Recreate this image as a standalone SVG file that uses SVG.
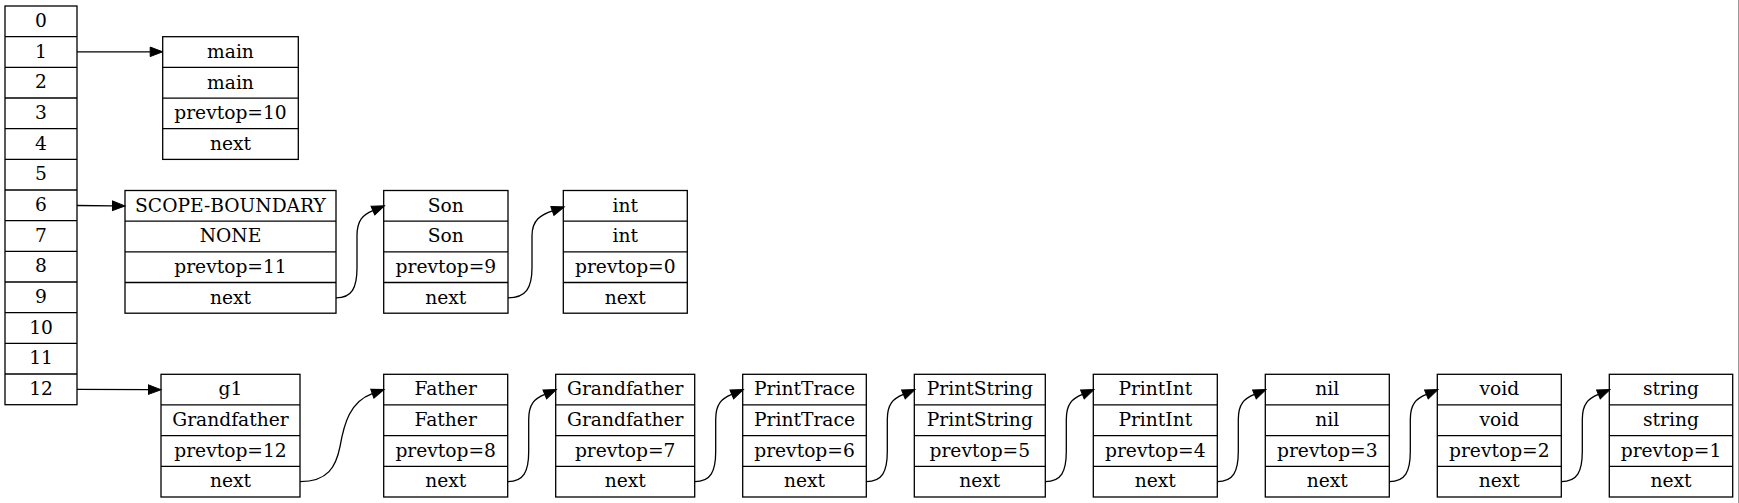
<svg xmlns="http://www.w3.org/2000/svg" width="1739" height="503" viewBox="0 0 1739 503">
<style>
.box{fill:#fff;stroke:#000;stroke-width:1.3}
.sep{stroke:#000;stroke-width:1.3}
.t{font-family:"DejaVu Serif","Liberation Serif",serif;font-size:18.67px;fill:#000;text-anchor:middle}
.e{fill:none;stroke:#000;stroke-width:1.3}
</style>
<defs>
<marker id="arr" markerUnits="userSpaceOnUse" markerWidth="14" markerHeight="10" refX="0" refY="4.75" orient="auto" overflow="visible">
<path d="M0,0 L12.5,4.75 L0,9.5 z" fill="#000" stroke="#000" stroke-width="1"/>
</marker>
</defs>
<rect width="1739" height="503" fill="#fff"/>
<line x1="1738.5" y1="0" x2="1738.5" y2="503" stroke="#9a9a9a" stroke-width="1"/>

<g id="stack">
<rect class="box" x="5" y="6" width="72" height="398.7"/>
<g class="sep">
<line x1="5" y1="36.67" x2="77" y2="36.67"/><line x1="5" y1="67.33" x2="77" y2="67.33"/>
<line x1="5" y1="98" x2="77" y2="98"/><line x1="5" y1="128.67" x2="77" y2="128.67"/>
<line x1="5" y1="159.33" x2="77" y2="159.33"/><line x1="5" y1="190" x2="77" y2="190"/>
<line x1="5" y1="220.67" x2="77" y2="220.67"/><line x1="5" y1="251.33" x2="77" y2="251.33"/>
<line x1="5" y1="282" x2="77" y2="282"/><line x1="5" y1="312.67" x2="77" y2="312.67"/>
<line x1="5" y1="343.33" x2="77" y2="343.33"/><line x1="5" y1="374" x2="77" y2="374"/>
</g>
<text class="t" x="41" y="26.8">0</text>
<text class="t" x="41" y="57.5">1</text>
<text class="t" x="41" y="88.2">2</text>
<text class="t" x="41" y="118.8">3</text>
<text class="t" x="41" y="149.5">4</text>
<text class="t" x="41" y="180.2">5</text>
<text class="t" x="41" y="210.8">6</text>
<text class="t" x="41" y="241.5">7</text>
<text class="t" x="41" y="272.2">8</text>
<text class="t" x="41" y="302.8">9</text>
<text class="t" x="41" y="333.5">10</text>
<text class="t" x="41" y="364.2">11</text>
<text class="t" x="41" y="394.8">12</text>
</g>

<g id="main">
<rect class="box" x="162.7" y="36.7" width="135.6" height="122.7"/>
<line class="sep" x1="162.7" y1="67.37" x2="298.3" y2="67.37"/>
<line class="sep" x1="162.7" y1="98.03" x2="298.3" y2="98.03"/>
<line class="sep" x1="162.7" y1="128.7" x2="298.3" y2="128.7"/>
<text class="t" x="230.5" y="57.8">main</text>
<text class="t" x="230.5" y="88.5">main</text>
<text class="t" x="230.5" y="119.2">prevtop=10</text>
<text class="t" x="230.5" y="149.8">next</text>
</g>

<g id="scope">
<rect class="box" x="125" y="190.5" width="211" height="122.7"/>
<line class="sep" x1="125" y1="221.17" x2="336" y2="221.17"/>
<line class="sep" x1="125" y1="251.83" x2="336" y2="251.83"/>
<line class="sep" x1="125" y1="282.5" x2="336" y2="282.5"/>
<text class="t" x="230.5" y="211.6">SCOPE-BOUNDARY</text>
<text class="t" x="230.5" y="242.3">NONE</text>
<text class="t" x="230.5" y="273">prevtop=11</text>
<text class="t" x="230.5" y="303.6">next</text>
</g>

<g id="son">
<rect class="box" x="383.7" y="190.5" width="124.3" height="122.7"/>
<line class="sep" x1="383.7" y1="221.17" x2="508" y2="221.17"/>
<line class="sep" x1="383.7" y1="251.83" x2="508" y2="251.83"/>
<line class="sep" x1="383.7" y1="282.5" x2="508" y2="282.5"/>
<text class="t" x="445.85" y="211.6">Son</text>
<text class="t" x="445.85" y="242.3">Son</text>
<text class="t" x="445.85" y="273">prevtop=9</text>
<text class="t" x="445.85" y="303.6">next</text>
</g>

<g id="int">
<rect class="box" x="563.3" y="190.5" width="124" height="122.7"/>
<line class="sep" x1="563.3" y1="221.17" x2="687.3" y2="221.17"/>
<line class="sep" x1="563.3" y1="251.83" x2="687.3" y2="251.83"/>
<line class="sep" x1="563.3" y1="282.5" x2="687.3" y2="282.5"/>
<text class="t" x="625.3" y="211.6">int</text>
<text class="t" x="625.3" y="242.3">int</text>
<text class="t" x="625.3" y="273">prevtop=0</text>
<text class="t" x="625.3" y="303.6">next</text>
</g>

<g id="g1">
<rect class="box" x="161" y="374.3" width="139" height="122.7"/>
<line class="sep" x1="161" y1="404.97" x2="300" y2="404.97"/>
<line class="sep" x1="161" y1="435.63" x2="300" y2="435.63"/>
<line class="sep" x1="161" y1="466.3" x2="300" y2="466.3"/>
<text class="t" x="230.5" y="395.4">g1</text>
<text class="t" x="230.5" y="426.1">Grandfather</text>
<text class="t" x="230.5" y="456.8">prevtop=12</text>
<text class="t" x="230.5" y="487.4">next</text>
</g>

<g id="father">
<rect class="box" x="383.7" y="374.3" width="124" height="122.7"/>
<line class="sep" x1="383.7" y1="404.97" x2="507.7" y2="404.97"/>
<line class="sep" x1="383.7" y1="435.63" x2="507.7" y2="435.63"/>
<line class="sep" x1="383.7" y1="466.3" x2="507.7" y2="466.3"/>
<text class="t" x="445.7" y="395.4">Father</text>
<text class="t" x="445.7" y="426.1">Father</text>
<text class="t" x="445.7" y="456.8">prevtop=8</text>
<text class="t" x="445.7" y="487.4">next</text>
</g>

<g id="grandfather">
<rect class="box" x="555.7" y="374.3" width="139" height="122.7"/>
<line class="sep" x1="555.7" y1="404.97" x2="694.7" y2="404.97"/>
<line class="sep" x1="555.7" y1="435.63" x2="694.7" y2="435.63"/>
<line class="sep" x1="555.7" y1="466.3" x2="694.7" y2="466.3"/>
<text class="t" x="625.2" y="395.4">Grandfather</text>
<text class="t" x="625.2" y="426.1">Grandfather</text>
<text class="t" x="625.2" y="456.8">prevtop=7</text>
<text class="t" x="625.2" y="487.4">next</text>
</g>

<g id="printtrace">
<rect class="box" x="742.7" y="374.3" width="123.6" height="122.7"/>
<line class="sep" x1="742.7" y1="404.97" x2="866.3" y2="404.97"/>
<line class="sep" x1="742.7" y1="435.63" x2="866.3" y2="435.63"/>
<line class="sep" x1="742.7" y1="466.3" x2="866.3" y2="466.3"/>
<text class="t" x="804.5" y="395.4">PrintTrace</text>
<text class="t" x="804.5" y="426.1">PrintTrace</text>
<text class="t" x="804.5" y="456.8">prevtop=6</text>
<text class="t" x="804.5" y="487.4">next</text>
</g>

<g id="printstring">
<rect class="box" x="914.3" y="374.3" width="131" height="122.7"/>
<line class="sep" x1="914.3" y1="404.97" x2="1045.3" y2="404.97"/>
<line class="sep" x1="914.3" y1="435.63" x2="1045.3" y2="435.63"/>
<line class="sep" x1="914.3" y1="466.3" x2="1045.3" y2="466.3"/>
<text class="t" x="979.8" y="395.4">PrintString</text>
<text class="t" x="979.8" y="426.1">PrintString</text>
<text class="t" x="979.8" y="456.8">prevtop=5</text>
<text class="t" x="979.8" y="487.4">next</text>
</g>

<g id="printint">
<rect class="box" x="1093.3" y="374.3" width="124" height="122.7"/>
<line class="sep" x1="1093.3" y1="404.97" x2="1217.3" y2="404.97"/>
<line class="sep" x1="1093.3" y1="435.63" x2="1217.3" y2="435.63"/>
<line class="sep" x1="1093.3" y1="466.3" x2="1217.3" y2="466.3"/>
<text class="t" x="1155.3" y="395.4">PrintInt</text>
<text class="t" x="1155.3" y="426.1">PrintInt</text>
<text class="t" x="1155.3" y="456.8">prevtop=4</text>
<text class="t" x="1155.3" y="487.4">next</text>
</g>

<g id="nil">
<rect class="box" x="1265.3" y="374.3" width="124" height="122.7"/>
<line class="sep" x1="1265.3" y1="404.97" x2="1389.3" y2="404.97"/>
<line class="sep" x1="1265.3" y1="435.63" x2="1389.3" y2="435.63"/>
<line class="sep" x1="1265.3" y1="466.3" x2="1389.3" y2="466.3"/>
<text class="t" x="1327.3" y="395.4">nil</text>
<text class="t" x="1327.3" y="426.1">nil</text>
<text class="t" x="1327.3" y="456.8">prevtop=3</text>
<text class="t" x="1327.3" y="487.4">next</text>
</g>

<g id="void">
<rect class="box" x="1437.3" y="374.3" width="124" height="122.7"/>
<line class="sep" x1="1437.3" y1="404.97" x2="1561.3" y2="404.97"/>
<line class="sep" x1="1437.3" y1="435.63" x2="1561.3" y2="435.63"/>
<line class="sep" x1="1437.3" y1="466.3" x2="1561.3" y2="466.3"/>
<text class="t" x="1499.3" y="395.4">void</text>
<text class="t" x="1499.3" y="426.1">void</text>
<text class="t" x="1499.3" y="456.8">prevtop=2</text>
<text class="t" x="1499.3" y="487.4">next</text>
</g>

<g id="string">
<rect class="box" x="1609.3" y="374.3" width="123.4" height="122.7"/>
<line class="sep" x1="1609.3" y1="404.97" x2="1732.7" y2="404.97"/>
<line class="sep" x1="1609.3" y1="435.63" x2="1732.7" y2="435.63"/>
<line class="sep" x1="1609.3" y1="466.3" x2="1732.7" y2="466.3"/>
<text class="t" x="1671" y="395.4">string</text>
<text class="t" x="1671" y="426.1">string</text>
<text class="t" x="1671" y="456.8">prevtop=1</text>
<text class="t" x="1671" y="487.4">next</text>
</g>

<g id="connectors" class="e" marker-end="url(#arr)">
<path class="e" marker-end="url(#arr)" d="M77,51.8 L150.2,51.8"/>
<path class="e" marker-end="url(#arr)" d="M77,205.5 L112.5,205.8"/>
<path class="e" marker-end="url(#arr)" d="M77,389.3 L148.5,389.6"/>
<path class="e" marker-end="url(#arr)" d="M336,297.8 c 16,0 21,-10 21,-30 l 0,-32 c 0,-16 6,-21 15.9,-25.2"/>
<path class="e" marker-end="url(#arr)" d="M508,297.8 c 18,0 24,-10 24,-30 l 0,-32 c 0,-16 9,-21 20.4,-24.9"/>
<path class="e" marker-end="url(#arr)" d="M300,481.6 c 28,0 36,-15 40,-35 c 4,-23 10,-45 32.3,-53"/>
<path class="e" marker-end="url(#arr)" d="M507.7,481.6 c 16,0 21,-10 21,-30 l 0,-32 c 0,-16 6,-21 16.1,-25.2"/>
<path class="e" marker-end="url(#arr)" d="M694.7,481.6 c 16,0 21,-10 21,-30 l 0,-32 c 0,-16 6,-21 16.1,-25.2"/>
<path class="e" marker-end="url(#arr)" d="M866.3,481.6 c 16,0 21,-10 21,-30 l 0,-32 c 0,-16 6,-21 16.1,-25.2"/>
<path class="e" marker-end="url(#arr)" d="M1045.3,481.6 c 16,0 21,-10 21,-30 l 0,-32 c 0,-16 6,-21 16.1,-25.2"/>
<path class="e" marker-end="url(#arr)" d="M1217.3,481.6 c 16,0 21,-10 21,-30 l 0,-32 c 0,-16 6,-21 16.1,-25.2"/>
<path class="e" marker-end="url(#arr)" d="M1389.3,481.6 c 16,0 21,-10 21,-30 l 0,-32 c 0,-16 6,-21 16.1,-25.2"/>
<path class="e" marker-end="url(#arr)" d="M1561.3,481.6 c 16,0 21,-10 21,-30 l 0,-32 c 0,-16 6,-21 16.1,-25.2"/>
</g>
</svg>
